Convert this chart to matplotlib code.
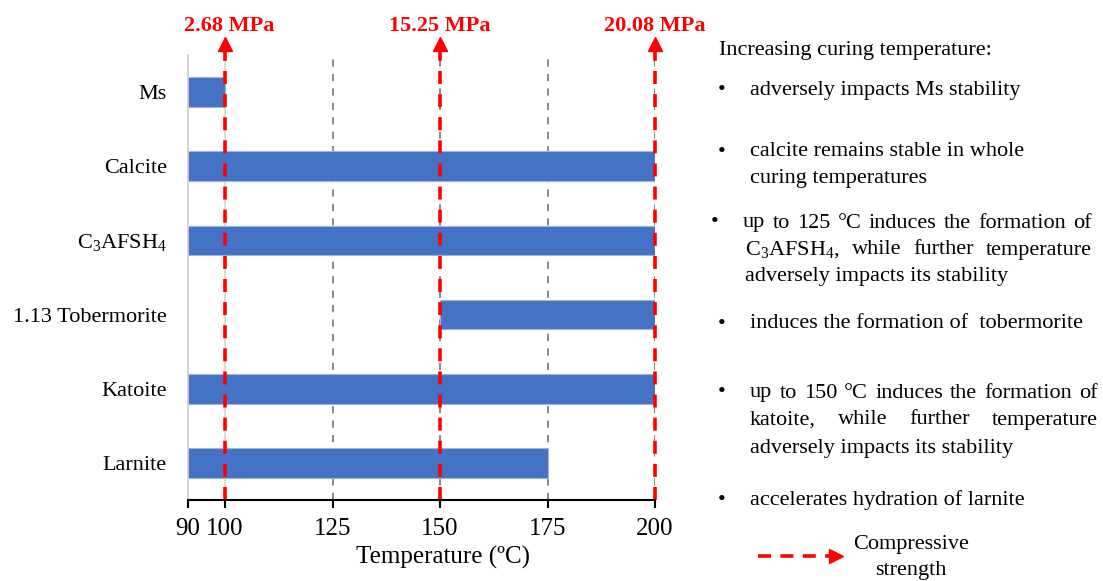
import matplotlib
matplotlib.use("Agg")
import matplotlib.pyplot as plt
import matplotlib.transforms as mtransforms

# ---------------- data ----------------
phases = ["Ms", "Calcite", r"$\mathregular{C_3AFSH_4}$", "1.13 Tobermorite", "Katoite", "Larnite"]
bar_start = [90, 90, 90, 150, 90, 90]
bar_end = [100, 200, 200, 200, 200, 175]
tick_values = [100, 125, 150, 175, 200]
tick_labels = ["90", "100", "125", "150", "175", "200"]
grid_values = [125, 150, 175, 200]
strength_temps = [100, 150, 200]
strength_labels = ["2.68 MPa", "15.25 MPa", "20.08 MPa"]

plt.rcParams["font.family"] = ["Liberation Serif", "DejaVu Serif"]
plt.rcParams["mathtext.fontset"] = "custom"
plt.rcParams["mathtext.rm"] = "Liberation Serif"

W, H = 1103, 581
fig = plt.figure(figsize=(W / 100, H / 100), dpi=100)
ax_l, ax_r, ax_t, ax_b = 187.7, 655.0, 55.0, 500.0
ax = fig.add_axes([ax_l / W, 1 - ax_b / H, (ax_r - ax_l) / W, (ax_b - ax_t) / H])

x_left = 91.3
ax.set_xlim(x_left, 200)
ax.set_ylim(len(phases) - 0.5, -0.5)

RED = "#ff0000"
BLUE = "#4472c4"

# grid lines
for g in grid_values:
    ax.axvline(g, color="#808080", lw=1.3, ls=(0, (4, 4)), zorder=1)
ax.axvline(100, color="#d9d9d9", lw=1.3, zorder=1)

# bars
ypos = list(range(len(phases)))
widths = [e - s for s, e in zip(bar_start, bar_end)]
ax.barh(ypos, widths, left=bar_start, height=0.4, color=BLUE,
        edgecolor="#9db4e0", linewidth=0.8, zorder=2)

ax.set_yticks(ypos)
ax.set_yticklabels(phases, fontsize=16)
ax.tick_params(axis="y", length=0, pad=15)

ax.set_xticks([x_left] + tick_values)
ax.set_xticklabels(tick_labels, fontsize=18)
ax.tick_params(axis="x", length=6, width=1.5, direction="out", pad=7, color="black")

for s in ["top", "right"]:
    ax.spines[s].set_visible(False)
ax.spines["left"].set_color("#d0d0d0")
ax.spines["left"].set_linewidth(1.3)
ax.spines["bottom"].set_color("black")
ax.spines["bottom"].set_linewidth(1.5)
ax.spines["bottom"].set_zorder(5)

ax.set_xlabel("Temperature (ºC)", fontsize=18)
ax.xaxis.set_label_coords((443 - ax_l) / (ax_r - ax_l), -(557 - ax_b) / (ax_b - ax_t))
ax.xaxis.label.set_va("center")

# compressive strength arrows
trans = mtransforms.blended_transform_factory(ax.transData, ax.transAxes)
head_base = 1 + (ax_t - 50) / (ax_b - ax_t)
head_center = 1 + (ax_t - 44) / (ax_b - ax_t)
label_y = 1 + (ax_t - 26) / (ax_b - ax_t)
for t, lab in zip(strength_temps, strength_labels):
    ax.plot([t, t], [0, head_base], transform=trans, color=RED, lw=2.6,
            ls=(0, (3.6, 2.8)), clip_on=False, zorder=4, solid_capstyle="butt")
    ax.plot([t], [head_center], transform=trans, marker="^", ms=10, color=RED,
            mec=RED, clip_on=False, zorder=4)
    ax.text(t + 1.0 if t == 100 else t, label_y, lab, transform=trans, ha="center",
            va="center", color=RED, fontsize=16, fontweight="bold")

# ---------------- right-hand text ----------------
FS = 16

def ftext(x, y, s, **kw):
    return fig.text(x / W, 1 - y / H, s, fontsize=FS, va="center", **kw)

renderer = fig.canvas.get_renderer()

def justified(x0, x1, y, words):
    objs = [ftext(x0, y, w) for w in words]
    wds = [o.get_window_extent(renderer).width for o in objs]
    gap = (x1 - x0 - sum(wds)) / (len(words) - 1)
    x = x0
    for o, w in zip(objs, wds):
        o.set_x(x / W)
        x += w + gap

ftext(719, 50, "Increasing curing temperature:")
bul = "•"
ftext(718, 90, bul)
ftext(750, 90, "adversely impacts Ms stability")
ftext(718, 152, bul)
ftext(750, 152, "calcite remains stable in whole")
ftext(750, 179, "curing temperatures")
ftext(711, 223, bul)
justified(743, 1092, 223, ["up", "to", "125", "°C", "induces", "the", "formation", "of"])
justified(745, 1092, 250, [r"$\mathregular{C_3AFSH_4}$,", "while", "further", "temperature"])
ftext(745, 277, "adversely impacts its stability")
ftext(718, 324, bul)
ftext(750, 324, "induces the formation of  tobermorite")
ftext(718, 393, bul)
justified(750, 1098, 393, ["up", "to", "150", "°C", "induces", "the", "formation", "of"])
justified(750, 1098, 420, ["katoite,", "while", "further", "temperature"])
ftext(750, 448, "adversely impacts its stability")
ftext(718, 500, bul)
ftext(750, 500, "accelerates hydration of larnite")

# legend
fy = 1 - 556 / H
fig.add_artist(plt.Line2D([758 / W, 832 / W], [fy, fy], color=RED, lw=2.6,
                          ls=(0, (3.6, 2.6)), transform=fig.transFigure))
fig.add_artist(plt.Line2D([836 / W], [fy], marker=">", ms=10, color=RED,
                          mec=RED, transform=fig.transFigure))
ftext(911, 545, "Compressive", ha="center")
ftext(911, 571, "strength", ha="center")

fig.savefig("out.png", dpi=100)
